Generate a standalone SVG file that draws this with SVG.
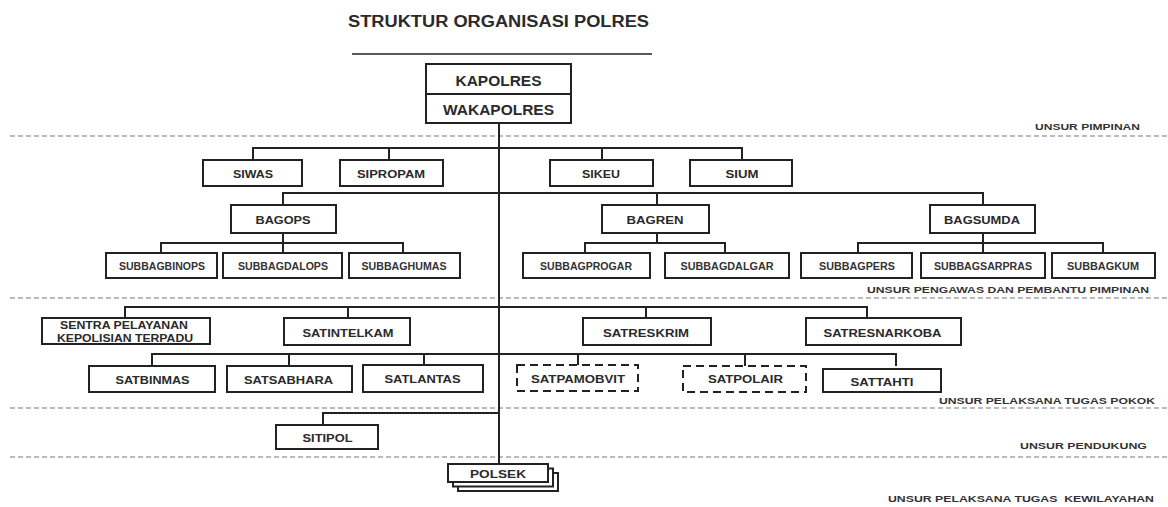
<svg xmlns="http://www.w3.org/2000/svg" width="1168" height="507" viewBox="0 0 1168 507">
<style>
.box{fill:#fff;stroke:#222;stroke-width:2}
.dbox{fill:#fff;stroke:#222;stroke-width:2;stroke-dasharray:8 5}
.conn{fill:none;stroke:#222;stroke-width:2}
.sep{fill:none;stroke:#777;stroke-width:1;stroke-dasharray:5 3}
.t{font-family:"Liberation Sans",Arial,sans-serif;font-weight:bold;fill:#2a2a2a;text-anchor:middle;font-size:11.5px}
.sm{font-size:10px;fill:#333}
.big{font-size:14.5px}
.lbl{font-family:"Liberation Sans",Arial,sans-serif;font-weight:bold;fill:#333;font-size:9.5px}
.title{font-family:"Liberation Sans",Arial,sans-serif;font-weight:bold;font-size:16px;fill:#2a2a2a}
</style>
<rect width="1168" height="507" fill="#fff"/>
<g id="title">
<text class="title" x="348" y="26.5" textLength="301" lengthAdjust="spacingAndGlyphs">STRUKTUR ORGANISASI POLRES</text>
<line x1="352" y1="54" x2="652" y2="54" stroke="#222" stroke-width="1.3"/>
</g>
<g id="separators">
<line class="sep" x1="10" y1="136" x2="1168" y2="136"/>
<line class="sep" x1="10" y1="298" x2="1168" y2="298"/>
<line class="sep" x1="10" y1="408" x2="1168" y2="408"/>
<line class="sep" x1="10" y1="457" x2="1168" y2="457"/>
<text class="lbl" x="1035" y="130" textLength="105" lengthAdjust="spacingAndGlyphs">UNSUR PIMPINAN</text>
<text class="lbl" x="867" y="293" textLength="282" lengthAdjust="spacingAndGlyphs">UNSUR PENGAWAS DAN PEMBANTU PIMPINAN</text>
<text class="lbl" x="939" y="404" textLength="216" lengthAdjust="spacingAndGlyphs">UNSUR PELAKSANA TUGAS POKOK</text>
<text class="lbl" x="1020" y="449" textLength="127" lengthAdjust="spacingAndGlyphs">UNSUR PENDUKUNG</text>
<text class="lbl" x="888" y="502" textLength="266" lengthAdjust="spacingAndGlyphs" xml:space="preserve">UNSUR PELAKSANA TUGAS  KEWILAYAHAN</text>
</g>
<g id="connectors">
<line class="conn" x1="499" y1="123" x2="499" y2="464"/>
<polyline class="conn" points="253,160 253,148 742,148 742,160"/>
<line class="conn" x1="389" y1="148" x2="389" y2="160"/>
<line class="conn" x1="602" y1="148" x2="602" y2="160"/>
<polyline class="conn" points="283,205 283,193 983,193 983,205"/>
<line class="conn" x1="657" y1="193" x2="657" y2="205"/>
<polyline class="conn" points="161,253 161,243 403,243 403,253"/>
<line class="conn" x1="283" y1="233" x2="283" y2="253"/>
<polyline class="conn" points="585,253 585,243 725,243 725,253"/>
<line class="conn" x1="657" y1="233" x2="657" y2="243"/>
<polyline class="conn" points="858,253 858,243 1103,243 1103,253"/>
<line class="conn" x1="983" y1="233" x2="983" y2="253"/>
<polyline class="conn" points="125,318 125,307 867,307 867,318"/>
<line class="conn" x1="348" y1="307" x2="348" y2="318"/>
<line class="conn" x1="646" y1="307" x2="646" y2="318"/>
<polyline class="conn" points="152,366 152,354 896,354 896,366"/>
<line class="conn" x1="289" y1="354" x2="289" y2="366"/>
<line class="conn" x1="424" y1="354" x2="424" y2="365"/>
<line class="conn" x1="578" y1="354" x2="578" y2="365"/>
<line class="conn" x1="745" y1="354" x2="745" y2="366"/>
<polyline class="conn" points="323,425 323,413 499,413"/>
</g>
<g id="kapolres">
<rect class="box" x="426" y="64" width="145" height="59"/>
<line x1="426" y1="94" x2="571" y2="94" stroke="#222" stroke-width="2"/>
<text class="t big" x="498.5" y="86" textLength="86" lengthAdjust="spacingAndGlyphs">KAPOLRES</text>
<text class="t big" x="498.5" y="115" textLength="111" lengthAdjust="spacingAndGlyphs">WAKAPOLRES</text>
</g>
<g id="siwas"><rect class="box" x="203" y="160" width="99" height="26"/><text class="t" x="253" y="178" textLength="40" lengthAdjust="spacingAndGlyphs">SIWAS</text></g>
<g id="sipropam"><rect class="box" x="340" y="160" width="103" height="26"/><text class="t" x="391" y="178" textLength="68" lengthAdjust="spacingAndGlyphs">SIPROPAM</text></g>
<g id="sikeu"><rect class="box" x="550" y="160" width="103" height="26"/><text class="t" x="601" y="178" textLength="38" lengthAdjust="spacingAndGlyphs">SIKEU</text></g>
<g id="sium"><rect class="box" x="690" y="160" width="102" height="26"/><text class="t" x="742" y="178" textLength="33" lengthAdjust="spacingAndGlyphs">SIUM</text></g>
<g id="bagops"><rect class="box" x="231" y="205" width="105" height="28"/><text class="t" x="283" y="224" textLength="55" lengthAdjust="spacingAndGlyphs">BAGOPS</text></g>
<g id="bagren"><rect class="box" x="602" y="205" width="107" height="28"/><text class="t" x="655" y="224" textLength="57" lengthAdjust="spacingAndGlyphs">BAGREN</text></g>
<g id="bagsumda"><rect class="box" x="930" y="205" width="105" height="28"/><text class="t" x="982" y="224" textLength="76" lengthAdjust="spacingAndGlyphs">BAGSUMDA</text></g>
<g id="subbagbinops"><rect class="box" x="106" y="253" width="111" height="25"/><text class="t sm" x="162" y="269.5" textLength="86" lengthAdjust="spacingAndGlyphs">SUBBAGBINOPS</text></g>
<g id="subbagdalops"><rect class="box" x="223" y="253" width="119" height="25"/><text class="t sm" x="283" y="269.5" textLength="90" lengthAdjust="spacingAndGlyphs">SUBBAGDALOPS</text></g>
<g id="subbaghumas"><rect class="box" x="349" y="253" width="111" height="25"/><text class="t sm" x="404" y="269.5" textLength="85" lengthAdjust="spacingAndGlyphs">SUBBAGHUMAS</text></g>
<g id="subbagprogar"><rect class="box" x="523" y="253" width="127" height="25"/><text class="t sm" x="586" y="269.5" textLength="92" lengthAdjust="spacingAndGlyphs">SUBBAGPROGAR</text></g>
<g id="subbagdalgar"><rect class="box" x="665" y="253" width="124" height="25"/><text class="t sm" x="727" y="269.5" textLength="93" lengthAdjust="spacingAndGlyphs">SUBBAGDALGAR</text></g>
<g id="subbagpers"><rect class="box" x="801" y="253" width="111" height="25"/><text class="t sm" x="857" y="269.5" textLength="76" lengthAdjust="spacingAndGlyphs">SUBBAGPERS</text></g>
<g id="subbagsarpras"><rect class="box" x="921" y="253" width="124" height="25"/><text class="t sm" x="983" y="269.5" textLength="98" lengthAdjust="spacingAndGlyphs">SUBBAGSARPRAS</text></g>
<g id="subbagkum"><rect class="box" x="1052" y="253" width="103" height="25"/><text class="t sm" x="1103" y="269.5" textLength="72" lengthAdjust="spacingAndGlyphs">SUBBAGKUM</text></g>
<g id="sentra"><rect class="box" x="42" y="318" width="168" height="26"/><text class="t" x="124" y="329" textLength="128" lengthAdjust="spacingAndGlyphs">SENTRA PELAYANAN</text><text class="t" x="125" y="342" textLength="136" lengthAdjust="spacingAndGlyphs">KEPOLISIAN TERPADU</text></g>
<g id="satintelkam"><rect class="box" x="284" y="318" width="126" height="27"/><text class="t" x="348" y="336.5" textLength="91" lengthAdjust="spacingAndGlyphs">SATINTELKAM</text></g>
<g id="satreskrim"><rect class="box" x="583" y="318" width="128" height="27"/><text class="t" x="646" y="336.5" textLength="86" lengthAdjust="spacingAndGlyphs">SATRESKRIM</text></g>
<g id="satresnarkoba"><rect class="box" x="806" y="318" width="155" height="27"/><text class="t" x="882.5" y="336.5" textLength="118" lengthAdjust="spacingAndGlyphs">SATRESNARKOBA</text></g>
<g id="satbinmas"><rect class="box" x="89" y="366" width="126" height="26"/><text class="t" x="152.5" y="384" textLength="74" lengthAdjust="spacingAndGlyphs">SATBINMAS</text></g>
<g id="satsabhara"><rect class="box" x="227" y="366" width="125" height="26"/><text class="t" x="288.5" y="384" textLength="89" lengthAdjust="spacingAndGlyphs">SATSABHARA</text></g>
<g id="satlantas"><rect class="box" x="363" y="365" width="120" height="27"/><text class="t" x="422.5" y="383" textLength="76" lengthAdjust="spacingAndGlyphs">SATLANTAS</text></g>
<g id="satpamobvit"><rect class="dbox" x="517" y="365" width="121" height="26"/><text class="t" x="578" y="383" textLength="94" lengthAdjust="spacingAndGlyphs">SATPAMOBVIT</text></g>
<g id="satpolair"><rect class="dbox" x="683" y="366" width="123" height="26"/><text class="t" x="745.5" y="383" textLength="75" lengthAdjust="spacingAndGlyphs">SATPOLAIR</text></g>
<g id="sattahti"><rect class="box" x="823" y="369" width="118" height="23"/><text class="t" x="882" y="385.5" textLength="63" lengthAdjust="spacingAndGlyphs">SATTAHTI</text></g>
<g id="sitipol"><rect class="box" x="276" y="425" width="102" height="24"/><text class="t" x="327.5" y="442" textLength="50" lengthAdjust="spacingAndGlyphs">SITIPOL</text></g>
<g id="polsek">
<rect class="box" x="458" y="473" width="100" height="18"/>
<rect class="box" x="453" y="468.5" width="100" height="18"/>
<rect class="box" x="448" y="464" width="100" height="18"/>
<text class="t" x="498" y="477.5" textLength="56" lengthAdjust="spacingAndGlyphs">POLSEK</text>
</g>
</svg>
